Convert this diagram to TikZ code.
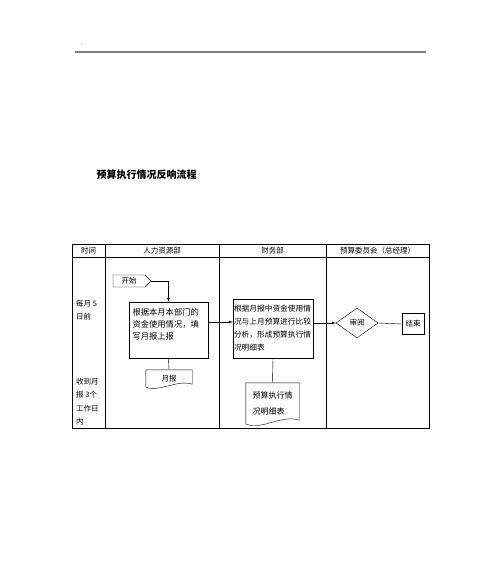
\documentclass[tikz,border=0pt]{standalone}
\usepackage{fontspec}
\newfontfamily\cjk{Noto Sans CJK SC}
\usetikzlibrary{arrows, positioning, shapes.geometric, shapes.symbols}

\begin{document}
\begin{tikzpicture}[x=1pt, y=-1pt, font=\cjk\fontsize{7.5}{12}\selectfont]
  \useasboundingbox (0,0) rectangle (500,565);

  % page head and title
  \node[font=\cjk\fontsize{6}{6}\selectfont] (dot) at (82,45) {.};
  \draw[gray, line width=1.2pt] (75,52) -- (426,52);
  \node[font=\cjk\bfseries\fontsize{10}{10}\selectfont] (title) at (146.5,175) {预算执行情况反响流程};

  % lanes
  \draw (72,244) rectangle (429,428);
  \draw (72,257) -- (429,257);
  \foreach \x in {105,219,326}
    \draw (\x,244) -- (\x,428);

  \node (h0) at (88.5,250.5) {时间};
  \node (h1) at (162,250.5) {人力资源部};
  \node (h2) at (272.5,250.5) {财务部};
  \node (h3) at (377.5,250.5) {预算委员会（总经理）};

  \node[align=left, anchor=north west, inner sep=0, font=\cjk\fontsize{7.5}{13}\selectfont] (t1) at (76,300) {每月 5\\日前};
  \node[align=left, anchor=north west, inner sep=0, font=\cjk\fontsize{7.5}{13.4}\selectfont] (t2) at (76,378) {收到月\\报 3个\\工作日\\内};

  % steps
  \node[signal, signal to=east, signal pointer angle=90, draw, minimum width=38, minimum height=12, inner sep=1] (start) at (129,281) {开始};
  \node[draw, text width=72, align=left, minimum width=79, minimum height=56, inner xsep=3, font=\cjk\fontsize{8.3}{12}\selectfont] (report) at (168.5,330) {根据本月本部门的\\资金使用情况，填\\写月报上报\\\mbox{}};
  \node[draw, text width=78, align=left, minimum height=59, inner xsep=1, font=\cjk\fontsize{7.7}{13}\selectfont] (detail) at (273,328.5) {根据月报中资金使用情\\况与上月预算进行比较\\分析，形成预算执行情\\况明细表};
  \node[diamond, draw, aspect=1.4, minimum width=42, minimum height=30, inner sep=0] (review) at (357,323) {审阅};
  \node[draw, minimum width=22, minimum height=21, inner sep=1] (finish) at (413,324) {结束};

  % documents
  \node[minimum width=46, minimum height=17] (monthly) at (169,378.5) {月报};
  \node[minimum width=53, minimum height=41, align=left, font=\cjk\fontsize{8}{16}\selectfont] (statement) at (272.5,403.5) {预算执行情\\况明细表};
  \draw (monthly.south west) -- (monthly.north west) -- (monthly.north east) -- ([yshift=3pt]monthly.south east)
    .. controls +(-15,-5) and +(15,5) .. (monthly.south west);
  \draw (statement.south west) -- (statement.north west) -- (statement.north east) -- ([yshift=4pt]statement.south east)
    .. controls +(-17,-6) and +(17,6) .. (statement.south west);

  % connectors
  \coordinate (r1) at ([yshift=8pt]report.east);
  \draw[-latex] (start.east) -| (report.north);
  \draw[-latex] (r1) -- (r1 -| detail.west);
  \draw[-latex] (review.west -| detail.east) -- (review.west);
  \draw (review.east) -- (finish.west);
  \draw (report.south) -- (monthly.north);
  \draw (detail.south) -- (statement.north);
\end{tikzpicture}
\end{document}
